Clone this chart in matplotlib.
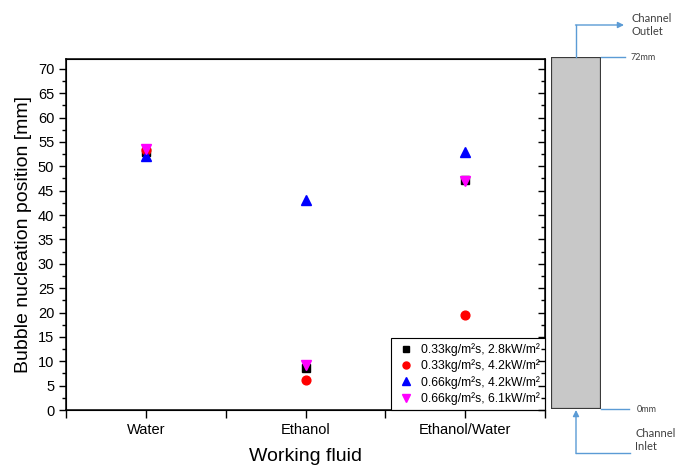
import matplotlib
matplotlib.use("Agg")
import matplotlib.pyplot as plt
from matplotlib.ticker import MultipleLocator, FixedLocator

plt.rcParams['font.family'] = ['Liberation Sans', 'DejaVu Sans']

# data
fluids = ['Water', 'Ethanol', 'Ethanol/Water']
labels = ['0.33kg/m²s, 2.8kW/m²',
          '0.33kg/m²s, 4.2kW/m²',
          '0.66kg/m²s, 4.2kW/m²',
          '0.66kg/m²s, 6.1kW/m²']
g033_q28 = [53.0, 8.6, 47.2]
g033_q42 = [53.4, 6.1, 19.4]
g066_q42 = [52.1, 43.1, 53.0]
g066_q61 = [53.6, 9.3, 47.0]
series = [g033_q28, g033_q42, g066_q42, g066_q61]
markers = ['s', 'o', '^', 'v']
colors = ['black', 'red', 'blue', 'magenta']
sizes = [5.5, 6.3, 7, 7]
channel_len = 72

fig = plt.figure(figsize=(6.75, 4.71), dpi=100)
ax = fig.add_axes([0.0978, 0.1295, 0.7096, 0.7452])

x = range(1, len(fluids) + 1)
for vals, m, c, s, lab in zip(series, markers, colors, sizes, labels):
    ax.plot(x, vals, linestyle='none', marker=m, color=c, markersize=s, label=lab)

ax.set_xlim(0.5, 3.5)
ax.set_ylim(0, 72)
ax.xaxis.set_major_locator(FixedLocator([1, 2, 3]))
ax.set_xticklabels(fluids)
ax.xaxis.set_minor_locator(FixedLocator([0.5, 1.5, 2.5, 3.5]))
ax.yaxis.set_major_locator(MultipleLocator(5))
ax.yaxis.set_minor_locator(MultipleLocator(2.5))
ax.tick_params(axis='x', which='both', direction='out', top=False, labelsize=10.5, length=6, width=1)
ax.tick_params(axis='y', which='major', direction='out', length=5, width=1, labelsize=10.5)
ax.tick_params(axis='y', which='minor', direction='out', length=3, width=1)
for sp in ax.spines.values():
    sp.set_linewidth(1.1)

# inward ticks on the right spine
ax_r = ax.twinx()
ax_r.set_ylim(ax.get_ylim())
ax_r.yaxis.set_major_locator(MultipleLocator(5))
ax_r.yaxis.set_minor_locator(MultipleLocator(2.5))
ax_r.tick_params(axis='y', which='major', direction='in', length=5, width=1, labelright=False)
ax_r.tick_params(axis='y', which='minor', direction='in', length=3, width=1)

ax.set_xlabel('Working fluid', fontsize=14, labelpad=8)
ax.set_ylabel('Bubble nucleation position [mm]', fontsize=14, labelpad=4)

leg = ax.legend(loc='lower right', fontsize=8.7, borderaxespad=0, fancybox=False,
                edgecolor='black', framealpha=1, handletextpad=0.5, labelspacing=0.3,
                borderpad=0.4, handlelength=1.6, markerscale=0.8)
leg.get_frame().set_linewidth(0.8)

# channel sketch
axc = fig.add_axes([0.8163, 0.1316, 0.0741, 0.7473])
axc.set_xlim(0, 1)
axc.set_ylim(0, channel_len)
axc.add_patch(plt.Rectangle((0, 0), 1, channel_len, facecolor='#c8c8c8',
                            edgecolor='#3a3a3a', linewidth=1.6))
axc.axis('off')

ov = fig.add_axes([0, 0, 1, 1], facecolor='none')
ov.set_xlim(0, 675)
ov.set_ylim(471, 0)
ov.axis('off')
blue = '#5b9bd5'
tc = '#404040'
tfont = ['Lato', 'DejaVu Sans']
ov.plot([601, 625], [57, 57], color=blue, lw=1)
ov.plot([601, 629], [409, 409], color=blue, lw=1)
ov.plot([576, 576], [57, 25], color=blue, lw=1)
ov.annotate('', xy=(624, 25), xytext=(575.5, 25),
            arrowprops=dict(arrowstyle='-|>', color=blue, lw=1, mutation_scale=9, shrinkA=0, shrinkB=0))
ov.plot([576, 630], [453, 453], color=blue, lw=1)
ov.annotate('', xy=(576, 410), xytext=(576, 453.5),
            arrowprops=dict(arrowstyle='-|>', color=blue, lw=1, mutation_scale=9, shrinkA=0, shrinkB=0))
ov.text(631, 57, '72mm', fontsize=6.5, color=tc, va='center', family=tfont)
ov.text(637, 409, '0mm', fontsize=6.5, color=tc, va='center', family=tfont)
ov.text(632, 25, 'Channel\nOutlet', fontsize=8, color=tc, va='center', family=tfont, linespacing=1.3)
ov.text(635, 440, 'Channel\nInlet', fontsize=8, color=tc, va='center', family=tfont, linespacing=1.3)

fig.savefig('out.png', dpi=100)
